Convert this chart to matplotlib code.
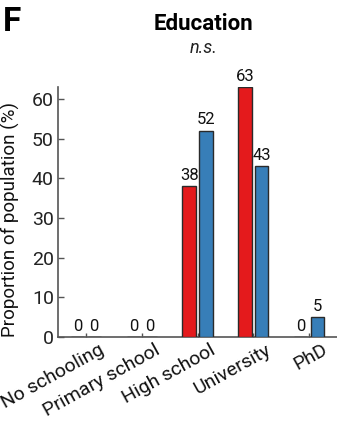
import matplotlib
matplotlib.use("Agg")
import matplotlib.pyplot as plt
import numpy as np

plt.rcParams['font.family'] = ['Roboto', 'DejaVu Sans']

categories = ["No schooling", "Primary school", "High school", "University", "PhD"]
group_a = [0, 0, 38, 63, 0]   # red
group_b = [0, 0, 52, 43, 5]   # blue
yticks = [0, 10, 20, 30, 40, 50, 60]

red = "#e41a1c"
blue = "#377eb8"
edge = "#2a2a2a"
axcol = "#555555"

fig = plt.figure(figsize=(3.37, 4.21), dpi=100)
ax = fig.add_axes([58/337, 1-337/421, 1-58/337, (337-87)/421])

x = np.arange(len(categories))
w = 0.24
off = 0.15
ba = ax.bar(x - off, group_a, width=w, color=red, edgecolor=edge, linewidth=1.0, zorder=3)
bb = ax.bar(x + off, group_b, width=w, color=blue, edgecolor=edge, linewidth=1.0, zorder=3)

for rect, v in list(zip(ba, group_a)) + list(zip(bb, group_b)):
    ax.text(rect.get_x() + rect.get_width()/2, v + 0.8, str(v), ha='center', va='bottom',
            fontsize=12, color='#111111')

ax.set_xlim(-0.5, 4.5)
ax.set_ylim(0, 63)
ax.set_yticks(yticks)
ax.set_xticks(x)
ax.set_xticklabels([])
for i, cat in enumerate(categories):
    ax.annotate(cat, xy=(x[i], 0), xycoords=ax.get_xaxis_transform(),
                xytext=(14.0, -11.5), textcoords='offset points',
                rotation=29, ha='right', va='baseline', rotation_mode='anchor',
                fontsize=14, color='#111111', annotation_clip=False)
ax.tick_params(axis='y', direction='in', length=4, width=1, color=axcol, labelsize=14, labelcolor='#222222', pad=3)
ax.tick_params(axis='x', direction='in', length=3, width=1, color=axcol, pad=0)

for s in ['top', 'right']:
    ax.spines[s].set_visible(False)
for s in ['left', 'bottom']:
    ax.spines[s].set_color(axcol)
    ax.spines[s].set_linewidth(1.2)

ax.set_ylabel("Proportion of population (%)", fontsize=13.5, color='#111111')
ax.yaxis.set_label_coords(-0.135, 0.47)

fig.text(0.603, 1-24/421, "Education", ha='center', va='center', fontsize=16, fontweight='bold')
fig.text(0.603, 1-48/421, "n.s.", ha='center', va='center', fontsize=13, style='italic', color='#222222')
fig.text(0.01, 1-22/421, "F", ha='left', va='center', fontsize=24, fontweight='bold')

fig.savefig("out.png", dpi=100)
